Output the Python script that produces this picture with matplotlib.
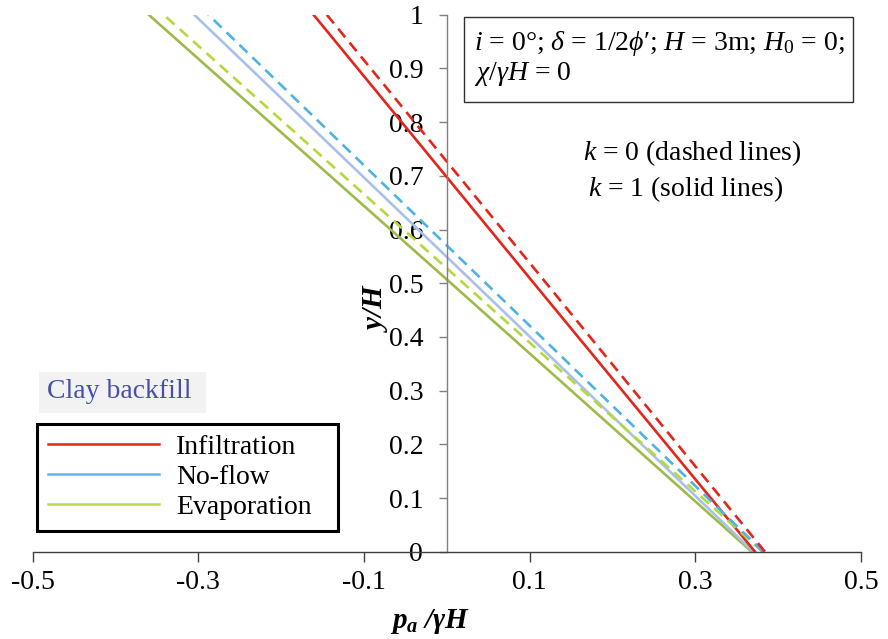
import matplotlib
matplotlib.use("Agg")
import matplotlib.pyplot as plt
from matplotlib.patches import Rectangle
from matplotlib.lines import Line2D

plt.rcParams['font.family'] = ['Liberation Serif', 'DejaVu Serif']
plt.rcParams['mathtext.fontset'] = 'custom'
plt.rcParams['mathtext.rm'] = 'Liberation Serif'
plt.rcParams['mathtext.it'] = 'Liberation Serif:italic'
plt.rcParams['mathtext.bf'] = 'Liberation Serif:bold:italic'
plt.rcParams['axes.unicode_minus'] = False

# ---- data ----
y_pts = [0.0, 0.5, 1.0]
infil_k1 = [0.372, 0.105, -0.161]
infil_k0 = [0.384, 0.120, -0.145]
noflow_k1 = [0.370, 0.033, -0.305]
noflow_k0 = [0.382, 0.047, -0.288]
evap_k1 = [0.368, 0.005, -0.360]
evap_k0 = [0.381, 0.020, -0.342]

series_names = ["Infiltration", "No-flow", "Evaporation"]
x_ticks = [-0.5, -0.3, -0.1, 0.1, 0.3, 0.5]
x_ticklabels = ["-0.5", "-0.3", "-0.1", "0.1", "0.3", "0.5"]
y_ticks = [0, 0.1, 0.2, 0.3, 0.4, 0.5, 0.6, 0.7, 0.8, 0.9, 1.0]
y_ticklabels = ["0", "0.1", "0.2", "0.3", "0.4", "0.5", "0.6", "0.7", "0.8", "0.9", "1"]

W, H = 888, 639
fig = plt.figure(figsize=(W / 100, H / 100), dpi=100)

def fx(px):
    return px / W

def fy(py):
    return 1 - py / H

ax = fig.add_axes([fx(32.7), fy(551.7), (861 - 32.7) / W, (551.7 - 14.7) / H])
ax.set_xlim(-0.5, 0.5)
ax.set_ylim(0, 1)

c_red = '#e2261c'
c_blue_d = '#4cb3e2'
c_blue_s = '#a9c1ea'
c_green_d = '#b4d93c'
c_green_s = '#9dbb4a'
c_blue_leg = '#58bbe6'
c_green_leg = '#b8d84e'

lw = 1.9
dash = (0, (4.2, 2.6))
ax.plot(evap_k1, y_pts, color=c_green_s, lw=lw)
ax.plot(noflow_k1, y_pts, color=c_blue_s, lw=lw)
ax.plot(infil_k1, y_pts, color=c_red, lw=lw)
ax.plot(evap_k0, y_pts, color=c_green_d, lw=lw, linestyle=dash)
ax.plot(noflow_k0, y_pts, color=c_blue_d, lw=lw, linestyle=dash)
ax.plot(infil_k0, y_pts, color=c_red, lw=lw, linestyle=dash)

for s in ['top', 'right']:
    ax.spines[s].set_visible(False)
ax.spines['left'].set_position(('data', 0))
ax.spines['left'].set_color('#808080')
ax.spines['bottom'].set_color('#404040')
ax.spines['left'].set_linewidth(1.0)
ax.spines['bottom'].set_linewidth(1.0)

ax.set_xticks(x_ticks)
ax.set_xticklabels(x_ticklabels)
ax.set_yticks(y_ticks)
ax.set_yticklabels(y_ticklabels)
ax.tick_params(axis='x', direction='out', length=7, width=1, color='#404040', labelsize=20, pad=6)
ax.tick_params(axis='y', direction='out', length=6, width=1, color='#808080', labelsize=20, pad=11)
for lab in ax.get_yticklabels():
    if lab.get_text() == "0":
        lab.set_bbox(dict(facecolor='white', edgecolor='none', pad=1))
ax.patch.set_alpha(0)

# axis labels
fig.text(fx(430), fy(621), r"$\mathbf{p_a\ /\gamma H}$", fontsize=21, ha='center', va='center')
fig.text(fx(375), fy(307), r"$\mathbf{y/H}$", fontsize=21, ha='center', va='center', rotation=90)

# parameter box
fig.add_artist(Rectangle((fx(464), fy(101.7)), (852.7 - 464) / W, (101.7 - 16.7) / H,
                         transform=fig.transFigure, facecolor='white', edgecolor='#303030', lw=1.0))
fig.text(fx(474), fy(44), r"$i$ = 0°; $\delta$ = 1/2$\phi$′; $H$ = 3m; $H_0$ = 0;", fontsize=20,
         ha='left', va='center')
fig.text(fx(474), fy(74), r"$\chi$/$\gamma H$ = 0", fontsize=20, ha='left', va='center')

fig.text(fx(583), fy(153), r"$k$ = 0 (dashed lines)", fontsize=20, ha='left', va='center')
fig.text(fx(588), fy(189), r"$k$ = 1 (solid lines)", fontsize=20, ha='left', va='center')

# clay backfill label
fig.add_artist(Rectangle((fx(39), fy(412.7)), (206 - 39) / W, (412.7 - 372) / H,
                         transform=fig.transFigure, facecolor='#f2f2f2', edgecolor='none'))
fig.text(fx(47), fy(391), "Clay backfill", fontsize=20, color='#4650a6', ha='left', va='center')

# legend
handles = [Line2D([], [], color=c_red, lw=1.8),
           Line2D([], [], color=c_blue_leg, lw=1.8),
           Line2D([], [], color=c_green_leg, lw=1.8)]
leg = ax.legend(handles, series_names, loc='upper left', mode='expand',
                bbox_to_anchor=(fx(37), fy(529.5), 301 / W, (529.5 - 423.5) / H),
                bbox_transform=fig.transFigure,
                fontsize=20, frameon=True, fancybox=False, borderaxespad=0,
                handlelength=4.0, handletextpad=0.6, labelspacing=0.16,
                borderpad=0.4)
leg.get_frame().set_edgecolor('black')
leg.get_frame().set_linewidth(2.2)
leg.get_frame().set_facecolor('white')
leg.get_frame().set_alpha(1)

fig.savefig("out.png", dpi=100)
